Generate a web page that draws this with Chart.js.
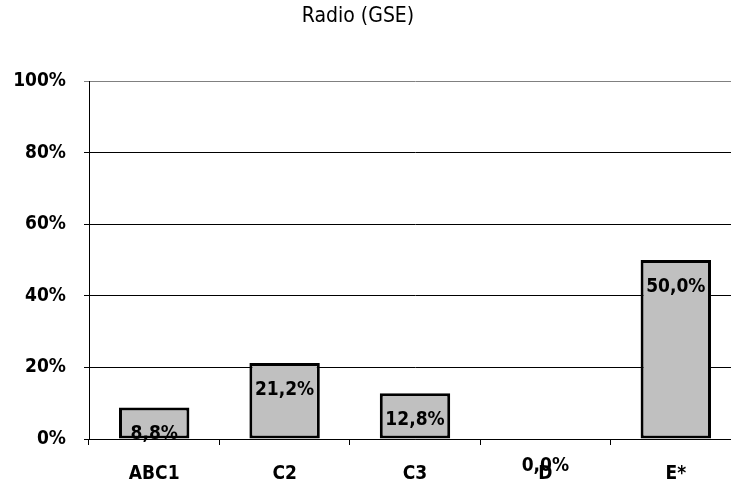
<!DOCTYPE html>
<html>
<head>
<meta charset="utf-8">
<script src="https://cdn.jsdelivr.net/npm/chart.js@4.4.1/dist/chart.umd.min.js"></script>
<style>
  html, body { margin: 0; padding: 0; background: #fff; overflow: hidden; }
  #wrap { width: 731px; height: 486px; overflow: hidden; }
</style>
</head>
<body>
<div id="wrap"><canvas id="chart" width="741" height="486"></canvas></div>
<script>
// chart data
const categories = ['ABC1', 'C2', 'C3', 'D', 'E*'];
const shares = [8.8, 21.2, 12.8, 0.0, 50.0];
const yTicks = [0, 20, 40, 60, 80, 100];
const chartTitle = 'Radio (GSE)';

const fam = "'DejaVu Sans Condensed', 'DejaVu Sans', sans-serif";
const boldFont = { family: fam, size: 19, weight: 'bold' };

// title sits a bit left of the canvas centre in the original
const titleText = {
  id: 'titleText',
  afterDraw(chart) {
    const ctx = chart.ctx;
    ctx.save();
    ctx.font = '21px ' + fam;
    ctx.fillStyle = '#000';
    ctx.textAlign = 'center';
    ctx.textBaseline = 'middle';
    ctx.fillText(chartTitle, 358, 17);
    ctx.restore();
  }
};

// value labels drawn a little below the top of each bar, like the original
const valueLabels = {
  id: 'valueLabels',
  afterDatasetsDraw(chart) {
    const ctx = chart.ctx;
    const meta = chart.getDatasetMeta(0);
    ctx.save();
    ctx.font = 'bold 19px ' + fam;
    ctx.fillStyle = '#000';
    ctx.textAlign = 'center';
    ctx.textBaseline = 'middle';
    meta.data.forEach((bar, i) => {
      const txt = shares[i].toFixed(1).replace('.', ',') + '%';
      ctx.fillText(txt, bar.x, bar.y + 27);
    });
    ctx.restore();
  }
};

new Chart(document.getElementById('chart'), {
  type: 'bar',
  data: {
    labels: categories,
    datasets: [{
      data: shares,
      backgroundColor: '#c0c0c0',
      borderColor: '#000',
      borderWidth: 3,
      borderSkipped: false,
      barPercentage: 0.54,
      categoryPercentage: 1
    }]
  },
  options: {
    responsive: false,
    animation: false,
    layout: { padding: { top: 81 } },
    plugins: {
      legend: { display: false },
      tooltip: { enabled: false },
      title: { display: false }
    },
    scales: {
      x: {
        grid: { drawOnChartArea: false, drawTicks: true, tickLength: 6, color: '#000', offset: true },
        border: { color: '#000', width: 1 },
        ticks: { color: '#000', font: boldFont, padding: 18 },
        afterFit(scale) { scale.height = 47; }
      },
      y: {
        min: 0,
        max: 100,
        afterBuildTicks(scale) { scale.ticks = yTicks.map(v => ({ value: v })); },
        grid: {
          color: (c) => (c.tick && c.tick.value === 100 ? '#808080' : '#000'),
          tickLength: 5,
          lineWidth: 1
        },
        border: { color: '#000', width: 1 },
        ticks: { color: '#000', font: boldFont, padding: 18, callback: (v) => v + '%' },
        afterFit(scale) { scale.width = 89; }
      }
    }
  },
  plugins: [valueLabels, titleText]
});
</script>
</body>
</html>
